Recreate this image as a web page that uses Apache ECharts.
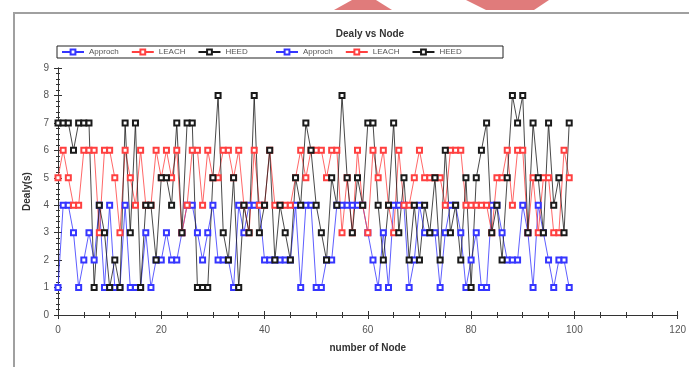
<!DOCTYPE html>
<html>
<head>
<meta charset="utf-8">
<script src="https://cdn.jsdelivr.net/npm/echarts@6/dist/echarts.min.js"></script>
<style>
  html, body { margin: 0; padding: 0; background: #fff; }
  #chart { width: 689px; height: 367px; }
</style>
</head>
<body>
<div id="chart"></div>
<script>
// series names as shown in legend
var seriesNames = ['Approch', 'LEACH', 'HEED'];

// delay values per node (index = node number 0..99)
var approch = [1,4,4,3,1,2,3,2,4,1, 4,1,1,4,1,1,1,3,1,2, 2,3,2,2,3,4,4,3,2,3,
               4,2,2,2,1,4,3,4,4,4, 2,2,2,2,2,2,4,1,4,4, 1,1,2,2,4,4,4,4,4,4,
               3,2,1,3,1,4,4,4,1,2, 4,3,3,3,1,3,4,4,3,1, 2,3,1,1,4,4,3,2,2,2,
               4,3,1,4,3,2,1,2,2,1];
var leach   = [5,6,5,4,4,6,6,6,3,6, 6,5,3,6,5,4,6,4,4,6, 5,6,5,6,3,4,6,6,4,6,
               5,5,6,6,5,6,4,3,6,4, 4,6,4,4,4,4,5,6,5,6, 6,6,5,6,6,3,5,3,6,4,
               3,6,5,6,4,3,6,4,4,5, 6,5,5,5,5,4,6,6,6,4, 4,4,4,4,3,5,5,6,4,6,
               6,3,5,3,5,5,3,3,6,5];
var heed    = [7,7,7,6,7,7,7,1,4,3, 1,2,1,7,3,7,1,4,4,2, 5,5,4,7,3,7,7,1,1,1,
               5,8,3,2,5,1,4,3,8,3, 4,6,2,4,3,2,5,4,7,6, 4,3,2,5,4,8,5,3,5,4,
               7,7,4,2,4,7,3,5,2,4, 2,4,3,5,2,6,3,4,2,5, 1,5,6,7,3,4,2,5,8,7,
               8,3,7,5,3,7,4,5,3,7];

// axis ranges / ticks
var xMin = 0, xMax = 120, xStep = 20;
var yMin = 0, yMax = 9, yStep = 1;

var colors = ['#3535ff', '#ff4040', '#1a1a1a'];

var myChart = echarts.init(document.getElementById('chart'));

function makeSeries(name, values, color) {
    return {
        name: name,
        type: 'line',
        data: values.map(function (v, i) { return [i, v]; }),
        symbol: 'emptyRect',
        symbolSize: 5,
        showAllSymbol: true,
        animation: false,
        lineStyle: { color: color, width: 0.8 },
        itemStyle: { color: color, borderColor: color, borderWidth: 1 }
    };
}

var legendText = { fontSize: 8, color: '#555', fontFamily: 'Liberation Sans' };

var option = {
    backgroundColor: '#fff',
    color: colors,
    title: {
        text: 'Dealy vs Node',
        left: 365,
        textAlign: 'center',
        top: 24,
        textStyle: { fontSize: 10, fontWeight: 'bold', color: '#333', fontFamily: 'Liberation Sans' }
    },
    legend: [{
        data: seriesNames,
        left: 61, top: 48,
        itemWidth: 22, itemHeight: 6, itemGap: 12,
        padding: 0,
        textStyle: legendText
    }, {
        data: seriesNames,
        left: 275, top: 48,
        itemWidth: 22, itemHeight: 6, itemGap: 12,
        padding: 0,
        textStyle: legendText
    }],
    graphic: [
        { type: 'rect', shape: { x: 57, y: 46, width: 446, height: 12 },
          style: { fill: 'none', stroke: '#222', lineWidth: 1 }, z: 1 },
        // outer frame of the picture
        { type: 'polyline', shape: { points: [[14, 367], [14, 13], [689, 13]] },
          style: { stroke: '#a0a0a0', lineWidth: 2, fill: 'none' }, z: 1 },
        // pink shapes cut off at the top
        { type: 'polygon', shape: { points: [[352, 0], [376, 0], [392, 10], [334, 10]] },
          style: { fill: '#e07b7b' }, z: 1 },
        { type: 'polygon', shape: { points: [[466, 0], [549, 0], [534, 10], [486, 10]] },
          style: { fill: '#e07b7b' }, z: 1 }
    ],
    grid: { left: 58, right: 7, top: 68, bottom: 52 },
    xAxis: [{
        type: 'value', min: xMin, max: xMax, interval: xStep,
        name: 'number of Node', nameLocation: 'middle', nameGap: 28,
        nameTextStyle: { fontSize: 10, fontWeight: 'bold', color: '#333', fontFamily: 'Liberation Sans' },
        axisLine: { lineStyle: { color: '#333', width: 1 } },
        axisTick: { inside: true, length: 4, lineStyle: { color: '#333' } },
        minorTick: { show: true, splitNumber: 4, length: 3, lineStyle: { color: '#333' } },
        axisLabel: { fontSize: 10, color: '#555', margin: 10, fontFamily: 'Liberation Sans' },
        splitLine: { show: false }
    }, {
        type: 'value', position: 'top', min: xMin, max: xMax, interval: xStep,
        axisLine: { lineStyle: { color: '#333', width: 1 } },
        axisTick: { inside: true, length: 4, lineStyle: { color: '#333' } },
        minorTick: { show: true, splitNumber: 4, length: 3, lineStyle: { color: '#333' } },
        axisLabel: { show: false },
        splitLine: { show: false }
    }],
    yAxis: [{
        type: 'value', min: yMin, max: yMax, interval: yStep,
        name: 'Dealy(s)', nameLocation: 'middle', nameGap: 26,
        nameTextStyle: { fontSize: 10, fontWeight: 'bold', color: '#333', fontFamily: 'Liberation Sans' },
        axisLine: { show: true, lineStyle: { color: '#333', width: 1 } },
        axisTick: { show: true, inside: true, length: 4, lineStyle: { color: '#333' } },
        minorTick: { show: true, splitNumber: 5, length: 2, lineStyle: { color: '#333' } },
        axisLabel: { fontSize: 10, color: '#555', margin: 9, fontFamily: 'Liberation Sans' },
        splitLine: { show: false }
    }, {
        type: 'value', position: 'right', min: yMin, max: yMax, interval: yStep,
        axisLine: { show: true, lineStyle: { color: '#333', width: 1 } },
        axisTick: { show: true, inside: true, length: 4, lineStyle: { color: '#333' } },
        minorTick: { show: true, splitNumber: 5, length: 2, lineStyle: { color: '#333' } },
        axisLabel: { show: false },
        splitLine: { show: false }
    }],
    series: [
        makeSeries(seriesNames[0], approch, colors[0]),
        makeSeries(seriesNames[1], leach, colors[1]),
        makeSeries(seriesNames[2], heed, colors[2])
    ]
};

myChart.setOption(option);
</script>
</body>
</html>
